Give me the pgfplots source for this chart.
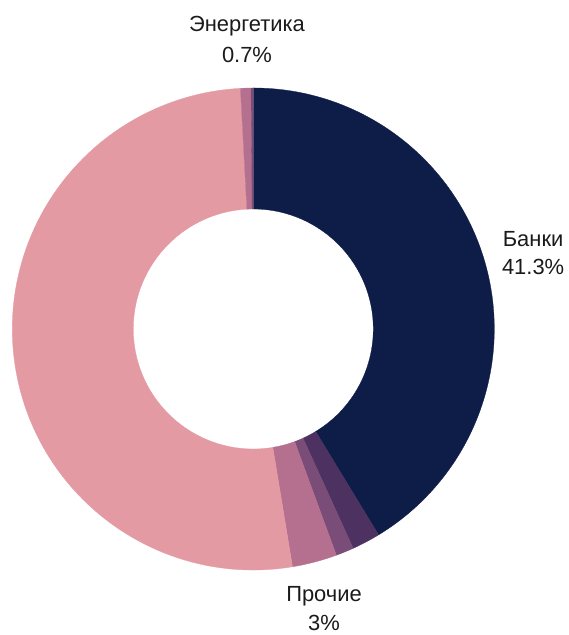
\documentclass[border=0pt]{standalone}
\usepackage{pgfplots}
\pgfplotsset{compat=1.18}
\usepackage{pgfplotstable}
\usepackage{fontspec}
\setmainfont{Liberation Sans}

\definecolor{cNavy}{HTML}{0E1C48}
\definecolor{cPlum}{HTML}{4D3161}
\definecolor{cPurple}{HTML}{7A4D79}
\definecolor{cMauve}{HTML}{B5708F}
\definecolor{cPink}{HTML}{E39AA2}
\definecolor{txt}{HTML}{1A1A1A}

% shares in %, clockwise from 12 o'clock
\pgfplotstableread[col sep=comma]{
share,color
41.3,cNavy
1.9,cPlum
1.2,cPurple
3.0,cMauve
51.75,cPink
0.7,cMauve
0.15,cPurple
}\slices

\newcommand\lbl{\fontsize{22}{29}\selectfont\color{txt}}
\newcommand\slice[3]{%
  \fill[fill=#3, draw=#3, line width=0.3bp, line join=round]
    ({241*cos(#1)},{241*sin(#1)}) arc[start angle=#1, end angle=#2, radius=241bp]
    -- ({120*cos(#2)},{120*sin(#2)}) arc[start angle=#2, end angle=#1, radius=120bp] -- cycle;}

\begin{document}
\begin{tikzpicture}
\pgfplotstablegetrowsof{\slices}%
\pgfmathtruncatemacro\nlast{\pgfplotsretval-1}%
\def\cum{0}%
\pgfplotsforeachungrouped \i in {0,...,\nlast}{%
  \pgfplotstablegetelem{\i}{share}\of\slices
  \let\v\pgfplotsretval
  \pgfmathsetmacro\a{90-3.6*\cum}%
  \pgfmathsetmacro\cum{\cum+\v}%
  \pgfmathsetmacro\b{90-3.6*\cum}%
  \expandafter\xdef\csname sa\i\endcsname{\a}%
  \expandafter\xdef\csname sb\i\endcsname{\b}%
  \pgfplotstablegetelem{\i}{color}\of\slices
  \expandafter\xdef\csname sc\i\endcsname{\pgfplotsretval}%
}%
\begin{axis}[
  hide axis, scale only axis,
  x=1bp, y=1bp,
  xmin=-253.3, xmax=315.7, ymin=-306, ymax=329,
  clip=false,
]
\addplot[draw=none, forget plot] coordinates {(-253.3,-306) (315.7,329)};
\pgfplotsinvokeforeach{0,...,\nlast}{%
  \edef\tmp{\noexpand\slice{\csname sa#1\endcsname}{\csname sb#1\endcsname}{\csname sc#1\endcsname}}\tmp
}
\node[anchor=base, inner sep=0, font=\lbl] at (axis cs:-6.3,297) {Энергетика};
\node[anchor=base, inner sep=0, font=\lbl] at (axis cs:-6.3,266) {0.7\%};
\node[anchor=base, inner sep=0, font=\lbl] at (axis cs:279.8,82.3) {Банки};
\node[anchor=base, inner sep=0, font=\lbl] at (axis cs:279.8,54) {41.3\%};
\node[anchor=base, inner sep=0, font=\lbl] at (axis cs:70.7,-273) {Прочие};
\node[anchor=base, inner sep=0, font=\lbl] at (axis cs:70.7,-301.8) {3\%};
\end{axis}
\end{tikzpicture}
\end{document}
